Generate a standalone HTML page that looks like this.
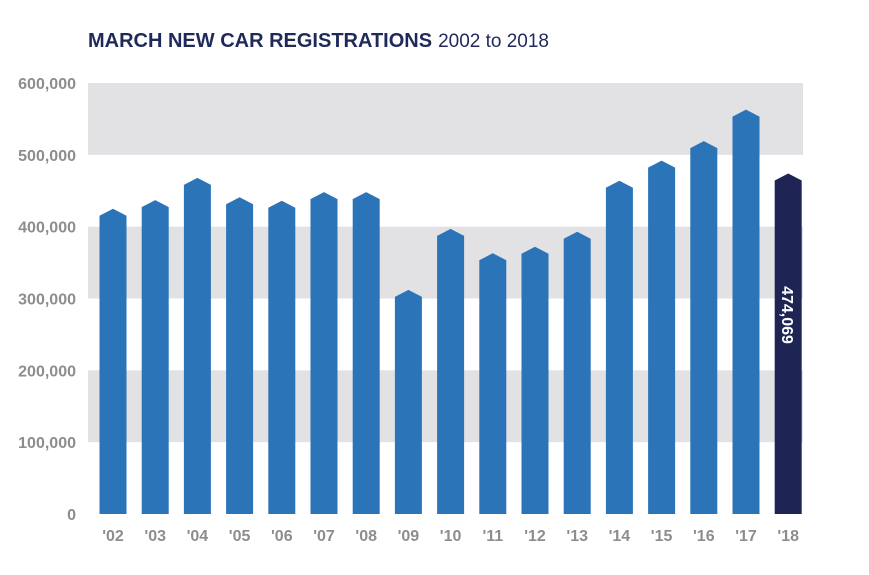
<!DOCTYPE html>
<html><head><meta charset="utf-8"><style>
body{margin:0;background:#fff;width:869px;height:570px;overflow:hidden;font-family:"Liberation Sans",sans-serif}
</style></head><body>
<svg width="869" height="570">
<text x="88" y="47" font-size="20" fill="#1f2a5a"><tspan font-weight="bold">MARCH NEW CAR REGISTRATIONS</tspan><tspan dx="6" font-size="19">2002 to 2018</tspan></text>
<g id="bands"></g><g id="yt"></g><g id="bars"></g><g id="xt"></g>
</svg>
<script>
const categories=["'02","'03","'04","'05","'06","'07","'08","'09","'10","'11","'12","'13","'14","'15","'16","'17","'18"];
const values=[425000,437000,468000,441000,436000,448000,448000,312000,397000,363000,372000,393000,464000,492000,519000,563000,474069];
const yTicks=[0,100000,200000,300000,400000,500000,600000];
const tickLabels=["0","100,000","200,000","300,000","400,000","500,000","600,000"];
const NS="http://www.w3.org/2000/svg";
const y=v=>514-v*(431/600000);
const x=i=>113+i*42.2;
function mk(t,a,p){const e=document.createElementNS(NS,t);for(const k in a)e.setAttribute(k,a[k]);p.appendChild(e);return e;}
const bands=document.getElementById('bands'),yt=document.getElementById('yt'),bars=document.getElementById('bars'),xt=document.getElementById('xt');
for(let i=0;i<yTicks.length-1;i+=2){
 const r=mk('rect',{x:88,y:y(yTicks[i+1]===undefined?0:yTicks[i+2]),width:715,height:y(yTicks[i+1])-y(yTicks[i+2]),fill:'#e2e1e3'},bands);
 
 
}
yTicks.forEach((v,i)=>{
 const t=mk('text',{x:76,y:y(v)+6,'text-anchor':'end','font-size':16,'font-weight':'bold',fill:'#8d8d8f'},yt);
 t.textContent=tickLabels[i];
 
 
});
values.forEach((v,i)=>{
 const cx=x(i),w=13.5,top=y(v),sh=top+7;
 const last=i===values.length-1;
 const p=mk('polygon',{points:`${cx-w},514 ${cx-w},${sh} ${cx},${top} ${cx+w},${sh} ${cx+w},514`,fill:last?'#1e2554':'#2b74b8'},bars);
 
 
 const t=mk('text',{x:cx,y:535+6,'text-anchor':'middle','font-size':16,'font-weight':'bold',fill:'#8d8d8f'},xt);
 t.textContent=categories[i];
 
 
 if(last){
  const l=mk('text',{x:0,y:0,'text-anchor':'middle','font-size':16,'font-weight':'bold',fill:'#fff',transform:`translate(${cx-6},315) rotate(90)`},bars);
  l.textContent=v.toLocaleString('en-US');
  
  
 }
});
</script>
</body></html>
